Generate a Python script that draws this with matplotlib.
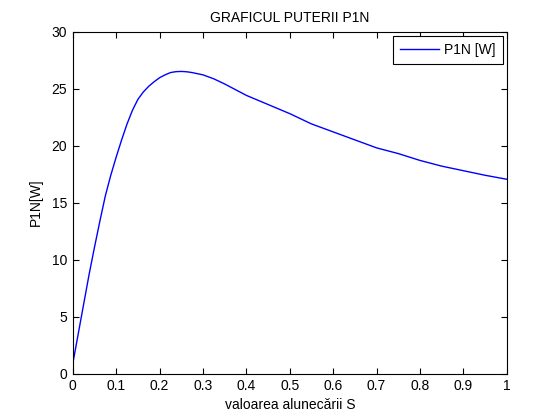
import numpy as np
import matplotlib.pyplot as plt

plt.rcParams['font.family'] = ['Liberation Sans', 'DejaVu Sans']
plt.rcParams['font.size'] = 10

# slip values and power readings taken from the chart
slip = [0, 0.0125, 0.025, 0.0375, 0.05, 0.0625, 0.075, 0.0875, 0.1, 0.1125,
        0.125, 0.1375, 0.15, 0.1625, 0.175, 0.1875, 0.2, 0.2125, 0.225,
        0.2375, 0.25, 0.2625, 0.275, 0.2875, 0.3, 0.325, 0.35, 0.375, 0.4,
        0.45, 0.5, 0.55, 0.6, 0.65, 0.7, 0.75, 0.8, 0.85, 0.9, 0.95, 1.0]
p1n = [0.9, 3.5, 6.1, 8.7, 11.1, 13.4, 15.6, 17.4, 19.0, 20.5,
       21.9, 23.1, 24.05, 24.7, 25.2, 25.6, 25.95, 26.2, 26.4,
       26.48, 26.5, 26.47, 26.4, 26.3, 26.2, 25.85, 25.4, 24.9, 24.4,
       23.6, 22.8, 21.9, 21.2, 20.5, 19.8, 19.3, 18.7, 18.2, 17.8, 17.4, 17.05]

xticks = np.arange(0, 1.01, 0.1)
xlabels = ['0', '0.1', '0.2', '0.3', '0.4', '0.5', '0.6', '0.7', '0.8', '0.9', '1']
yticks = [0, 5, 10, 15, 20, 25, 30]

fig = plt.figure(figsize=(5.6, 4.2), dpi=100)
ax = fig.add_axes([0.13, 0.11, 0.775, 0.815])
ax.plot(slip, p1n, color='blue', linewidth=1, label='P1N [W]')

ax.set_xlim(0, 1)
ax.set_ylim(0, 30)
ax.set_xticks(xticks)
ax.set_xticklabels(xlabels)
ax.set_yticks(yticks)
ax.tick_params(direction='in', length=4, width=0.8, top=True, right=True,
               labelsize=10, pad=4)
for sp in ax.spines.values():
    sp.set_linewidth(0.8)

ax.set_title('GRAFICUL PUTERII P1N', fontsize=10, pad=7)
ax.set_xlabel('valoarea alunecării S', fontsize=10, labelpad=3)
ax.set_ylabel('P1N[W]', fontsize=10, labelpad=6)

leg = ax.legend(loc='upper right', fancybox=False, edgecolor='black',
                framealpha=1, handlelength=2.8, handletextpad=0.35,
                borderpad=0.5, borderaxespad=0.3)
leg.get_frame().set_linewidth(0.8)

fig.savefig('out.png', dpi=100)
